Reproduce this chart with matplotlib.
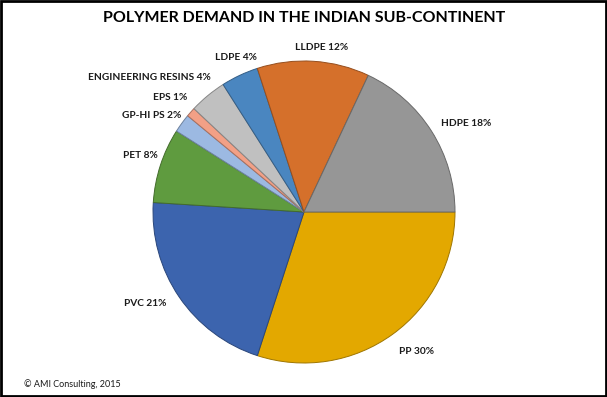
import numpy as np
import matplotlib
matplotlib.use("Agg")
import matplotlib.pyplot as plt
import matplotlib.colors as mcolors
import matplotlib.patches as pat

# Datos del gráfico (orden horario desde las 3 en punto)
categorias = ["PP", "PVC", "PET", "GP-HI PS", "EPS", "ENGINEERING RESINS", "LDPE", "LLDPE", "HDPE"]
porcentajes = [30, 21, 8, 2, 1, 4, 4, 12, 18]
colores = ["#E3A800", "#3C64AE", "#5F9B3F", "#9CB9E2", "#F2A086", "#C0C0C0", "#4A86C0", "#D5702B", "#969696"]

# Posición de las etiquetas en píxeles (centro del texto)
pos_etiquetas = [(416, 352), (145, 303), (140, 156), (152, 116), (170, 97),
                 (149, 77), (236, 57), (322, 47), (466, 124)]

W, H = 607, 397
fig = plt.figure(figsize=(W / 100, H / 100), dpi=100)
fig.patch.set_facecolor("white")

cx, cy, R = 304, 212, 151
ax = fig.add_axes([(cx - R) / W, (H - cy - R) / H, 2 * R / W, 2 * R / H])
bordes = [tuple(np.array(mcolors.to_rgb(c)) * 0.7) for c in colores]
wedges, _ = ax.pie(porcentajes, colors=colores, startangle=0, counterclock=False,
                   wedgeprops=dict(linewidth=0.7))
for w, b in zip(wedges, bordes):
    w.set_edgecolor(b)
ax.set_xlim(-1, 1)
ax.set_ylim(-1, 1)
ax.set_aspect("equal")
ax.axis("off")

for cat, p, (x, y) in zip(categorias, porcentajes, pos_etiquetas):
    fig.text(x / W, 1 - y / H, f"{cat} {p}%", ha="center", va="center",
             fontsize=7.3, fontweight="bold", family="Lato", color="#1a1a1a")

fig.text(304 / W, 1 - 18 / H, "POLYMER DEMAND IN THE INDIAN SUB-CONTINENT",
         ha="center", va="center", fontsize=11.5, fontweight="bold", family="Lato", color="black")
fig.text(24 / W, 1 - 384 / H, "© AMI Consulting, 2015", ha="left", va="center",
         fontsize=6.5, family="Lato", color="#1a1a1a")

# Marco negro alrededor de la figura
fig.add_artist(pat.Rectangle((0.0015, 0.0025), 0.997, 0.995, transform=fig.transFigure,
                             fill=False, edgecolor="black", linewidth=2))

fig.savefig("out.png", dpi=100)
